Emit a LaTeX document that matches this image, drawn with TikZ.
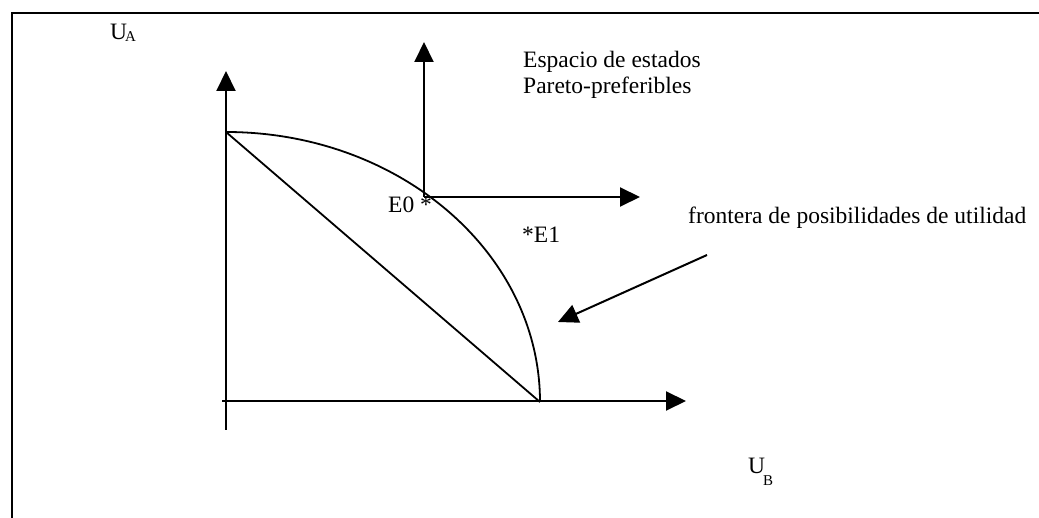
\documentclass[tikz,border=0pt]{standalone}
\usepackage{fontspec}
\setmainfont{Liberation Serif}
\usetikzlibrary{arrows.meta}
\tikzset{
  axis/.style={line width=2pt,-{Triangle[length=20pt,width=19pt]}},
  curve/.style={line width=1.8pt},
  lbl/.style={inner sep=0pt,anchor=base west,font=\fontsize{23.5}{28}\selectfont},
  sub/.style={inner sep=0pt,anchor=base west,font=\fontsize{15}{18}\selectfont},
}
\begin{document}
\begin{tikzpicture}[x=1pt,y=-1pt]
\useasboundingbox (0,0) rectangle (1039,518);
% frame
\coordinate (f1) at (1039,13);
\coordinate (f2) at (12,13);
\coordinate (f3) at (12,518);
\draw[line width=2pt] (f1) -- (f2) -- (f3);
% main axes
\coordinate (vb) at (226,430);
\coordinate (vt) at (226,71);
\coordinate (hl) at (222,401);
\coordinate (hr) at (686,401);
\draw[axis] (vb) -- (vt);
\draw[axis] (hl) -- (hr);
% frontier and straight line
\coordinate (top) at (226,132);
\coordinate (bot) at (540,402);
\draw[curve] (top) .. controls (399.4,132) and (540,253) .. (bot);
\draw[curve] (top) -- (bot);
% Pareto-preferred quadrant
\coordinate (e0) at (424,197);
\coordinate (st) at (424,42);
\coordinate (sr) at (640,197);
\draw[axis] (e0) -- (st);
\draw[axis] (e0) -- (sr);
% labels
\node[lbl] (ua) at (110,40) {U};
\node[sub] (uasub) at (125,42) {A};
\node[lbl] (ub) at (748,473) {U};
\node[sub] (ubsub) at (763,485) {B};
\node[lbl] (esp1) at (523,68) {Espacio de estados};
\node[lbl] (esp2) at (523,94) {Pareto-preferibles};
\node[lbl] (le0) at (388,213) {E0 *};
\node[lbl] (le1) at (522,243) {*E1};
\node[lbl] (front) at (688,224) {frontera de posibilidades de utilidad};
% pointer arrow
\coordinate (pa) at (707,255);
\coordinate (pb) at (558,322);
\draw[axis] (pa) -- (pb);
\end{tikzpicture}
\end{document}
